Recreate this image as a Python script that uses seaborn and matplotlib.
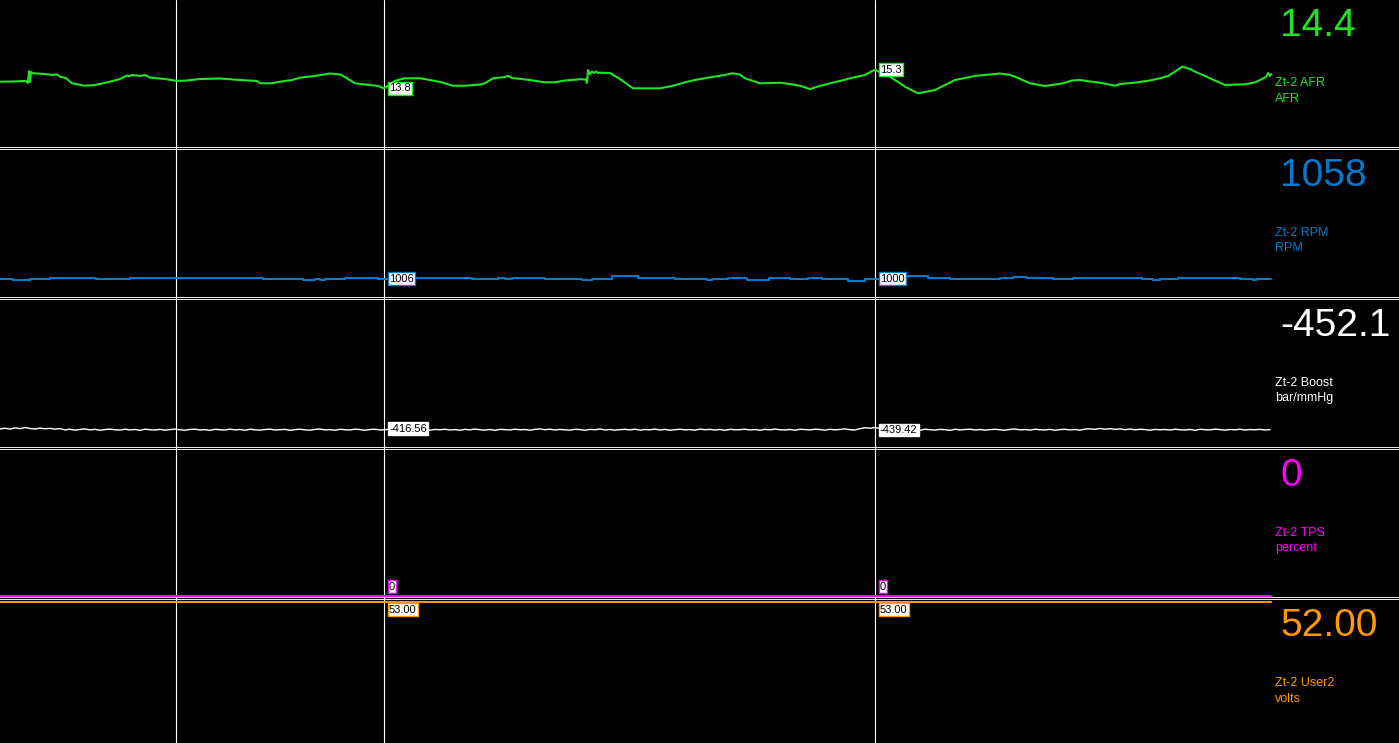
import numpy as np
import pandas as pd
import matplotlib
matplotlib.use("Agg")
import matplotlib.pyplot as plt
from matplotlib.patches import Rectangle
import seaborn as sns

# ---------------- data ----------------
channel_names = ["Zt-2 AFR", "Zt-2 RPM", "Zt-2 Boost", "Zt-2 TPS", "Zt-2 User2"]
channel_units = ["AFR", "RPM", "bar/mmHg", "percent", "volts"]
current_values = ["14.4", "1058", "-452.1", "0", "52.00"]
channel_colors = ["#1EE61E", "#007ACC", "#FFFFFF", "#FF00FF", "#FF9900"]

marker_t = [176, 384, 875]
cursor_t = [384, 875]
cursor_labels = [["13.8", "15.3"], ["1006", "1000"], ["-416.56", "-439.42"],
                 ["0", "0"], ["53.00", "53.00"]]

afr_t = [0, 15, 26, 28, 29, 30, 31, 33, 45, 52, 57, 60, 66, 72, 85, 95, 103, 110,
         120, 127, 129, 132, 140, 145, 150, 165, 176, 185, 200, 220, 240, 257, 260,
         272, 280, 292, 300, 315, 330, 340, 345, 355, 370, 378, 384, 395, 405, 420,
         430, 440, 453, 465, 480, 485, 493, 505, 508, 512, 530, 545, 555, 563, 580,
         586, 587, 588, 590, 592, 594, 596, 598, 600, 610, 613, 620, 633, 660, 672,
         685, 695, 710, 725, 732, 740, 745, 760, 772, 780, 790, 800, 810, 818, 830,
         840, 850, 865, 872, 875, 890, 905, 918, 925, 935, 945, 955, 965, 975, 985,
         1000, 1010, 1015, 1030, 1045, 1063, 1072, 1080, 1090, 1100, 1115, 1120,
         1135, 1150, 1160, 1168, 1175, 1182, 1190, 1195, 1205, 1210, 1218, 1225,
         1245, 1255, 1260, 1266, 1268, 1270, 1271]
afr_v = [14.33, 14.35, 14.40, 14.22, 15.20, 14.31, 15.12, 15.02, 14.96, 14.88, 14.92,
         14.74, 14.63, 14.20, 14.00, 14.06, 14.20, 14.33, 14.55, 14.84, 14.76, 14.88,
         14.80, 14.88, 14.67, 14.55, 14.41, 14.41, 14.55, 14.59, 14.47, 14.39, 14.20,
         14.20, 14.33, 14.47, 14.66, 14.80, 15.00, 14.92, 14.71, 14.20, 14.06, 13.98,
         13.79, 14.40, 14.61, 14.61, 14.47, 14.31, 14.00, 14.00, 14.10, 14.20, 14.61,
         14.71, 14.82, 14.63, 14.47, 14.28, 14.28, 14.41, 14.53, 14.51, 14.22, 15.29,
         14.96, 15.16, 15.04, 15.16, 15.04, 15.07, 15.04, 14.88, 14.55, 13.79, 13.79,
         13.98, 14.28, 14.47, 14.69, 14.88, 15.02, 14.92, 14.61, 14.20, 14.22, 14.25,
         14.14, 14.00, 13.73, 13.94, 14.20, 14.39, 14.61, 14.88, 15.20, 15.29, 14.74,
         13.92, 13.38, 13.49, 13.65, 14.06, 14.47, 14.63, 14.80, 14.88, 15.00, 14.88,
         14.74, 14.20, 13.98, 14.20, 14.43, 14.47, 14.35, 14.25, 14.00, 14.14, 14.25,
         14.43, 14.61, 14.80, 15.15, 15.56, 15.37, 15.15, 14.80, 14.61, 14.31, 14.06,
         14.12, 14.27, 14.47, 14.71, 15.04, 14.80, 14.96]

rpm_t = [0, 13, 30, 50, 96, 130, 230, 263, 303, 315, 320, 325, 345, 378, 390, 472,
         498, 505, 512, 545, 582, 592, 612, 638, 675, 707, 712, 728, 747, 769, 790,
         808, 822, 848, 865, 872, 880, 928, 950, 1000, 1013, 1027, 1053, 1073, 1142,
         1153, 1160, 1178, 1240, 1253, 1256, 1271]
rpm_v = [980, 925, 980, 1050, 996, 1050, 1034, 980, 925, 960, 925, 996, 1034, 980,
         1034, 958, 1034, 958, 1034, 958, 903, 1001, 1116, 1034, 958, 903, 1001, 1056,
         903, 1034, 1001, 1056, 958, 865, 958, 1000, 1143, 1050, 996, 1050, 1105, 1050,
         996, 1050, 996, 941, 996, 1050, 996, 941, 996, 996]

boost_v = [
    -420, -408, -425, -400, -415, -395, -412, -422, -405, -418, -410, -426, -414,
    -440, -425, -445, -430, -422, -438, -428, -446, -432, -424,
    -436, -442, -427, -439, -431, -447, -426, -435, -441, -429,
    -444, -433, -423, -437, -445, -430, -426, -440, -434, -448,
    -428, -436, -442, -425, -439, -431, -446, -427, -437, -443,
    -432, -424, -441, -435, -429, -447, -433, -426, -438, -444,
    -430, -422, -439, -434, -445, -428, -436, -441, -425, -433,
    -446, -431, -427, -440, -436, -423, -442, -429, -437, -445,
    -432, -426, -439, -444, -430, -435, -427, -441, -433, -446,
    -428, -438, -424, -436, -443, -431, -447, -429, -434, -440,
    -425, -437, -432, -445, -428, -420, -435, -426, -441, -430,
    -438, -444, -427, -433, -446, -429, -436, -422, -440, -431,
    -445, -434, -428, -439, -426, -443, -432, -437, -424, -441,
    -430, -446, -435, -427, -438, -433, -444, -425, -436, -429,
    -442, -431, -447, -428, -437, -434, -426, -440, -432, -445,
    -429, -438, -423, -436, -441, -430, -446, -427, -434, -439,
    -426, -432, -444, -428, -437, -431, -420, -435, -441,
    -415, -398, -408, -395, -412,
    -440, -428, -445, -432, -424, -438, -430, -446, -426, -436,
    -442, -429, -435, -447, -427, -439, -433, -425, -441, -431,
    -444, -434, -428, -437, -445, -430, -422, -438, -432, -443,
    -426, -436, -440, -429, -446, -433, -427, -439, -431, -444,
    -424, -418, -430, -412, -425, -416, -428, -420, -435, -422,
    -438, -427, -433, -445, -429, -437, -431, -442, -426, -436,
    -441, -430, -447, -428, -435, -439, -425, -433, -444, -431,
    -437, -427, -442, -432, -436, -429, -440, -434]
boost_period = 5
boost_t = np.arange(len(boost_v)) * boost_period

tps_t = [0, 1271]
tps_v = [0, 0]
user2_t = [0, 1271]
user2_v = [53, 53]

series_t = [afr_t, rpm_t, boost_t, tps_t, user2_t]
series_v = [afr_v, rpm_v, boost_v, tps_v, user2_v]
ylims = [(9, 21), (0, 8000), (-760, 2000), (-1, 100), (0, 53.6)]
line_widths = [1.5, 1.5, 1.0, 1.5, 1.5]
draw_styles = ["default", "steps-post", "default", "default", "default"]

# ---------------- layout ----------------
W, H = 1399, 743
plot_right = 1271
panel_rows = [(0, 147), (150, 297), (300, 447), (450, 597), (600, 743)]
sep_rows = [147, 149, 297, 299, 447, 449, 597, 599]

sns.set_theme(style="white")
plt.rcParams["font.family"] = ["Liberation Sans", "DejaVu Sans"]

fig = plt.figure(figsize=(W / 100, H / 100), dpi=100, facecolor="black")

# background axis for the full-height marker lines
bg = fig.add_axes([0, 0, plot_right / W, 1])
bg.set_facecolor("black")
bg.set_xlim(0, plot_right)
bg.set_ylim(0, 1)
bg.axis("off")
for t in marker_t:
    bg.axvline(t, color="white", lw=0.8, zorder=1)

# thin double separators between the panels (1 px each)
for row in sep_rows:
    fig.add_artist(Rectangle((0, 1 - (row + 1) / H), 1, 1 / H,
                             transform=fig.transFigure, facecolor="#E8E8E8",
                             edgecolor="none", antialiased=False, zorder=0.5))

for i, (top, bot) in enumerate(panel_rows):
    ax = fig.add_axes([0, 1 - bot / H, plot_right / W, (bot - top) / H])
    ax.set_facecolor("none")
    ax.patch.set_alpha(0)
    ax.set_zorder(2)
    col = channel_colors[i]
    df = pd.DataFrame({"t": series_t[i], "v": series_v[i]})
    sns.lineplot(data=df, x="t", y="v", ax=ax, color=col, lw=line_widths[i],
                 estimator=None, sort=False, drawstyle=draw_styles[i],
                 clip_on=False, zorder=3)
    ax.set_xlim(0, plot_right)
    ax.set_ylim(*ylims[i])
    ax.axis("off")

    # cursor value boxes
    for j, ct in enumerate(cursor_t):
        lab = cursor_labels[i][j]
        val = float(lab)
        if i == 3:
            va, dy = "bottom", 4
        elif i == 4:
            va, dy = "top", -3
        else:
            va, dy = "center", 0
        ax.annotate(lab, xy=(ct, val), xytext=(5, dy), textcoords="offset pixels",
                    ha="left", va=va, fontsize=8, color="black", zorder=5,
                    annotation_clip=False,
                    bbox=dict(boxstyle="square,pad=0.12", fc="white", ec=col, lw=1))

    # right-hand readouts
    fig.text(1280 / W, 1 - (top + 35.5) / H, current_values[i], color=col,
             fontsize=28, ha="left", va="baseline")
    fig.text(1275 / W, 1 - (top + 86.5) / H, channel_names[i], color=col,
             fontsize=9, ha="left", va="baseline")
    fig.text(1275 / W, 1 - (top + 101.5) / H, channel_units[i], color=col,
             fontsize=9, ha="left", va="baseline")

fig.savefig("out.png", dpi=100, facecolor="black")
